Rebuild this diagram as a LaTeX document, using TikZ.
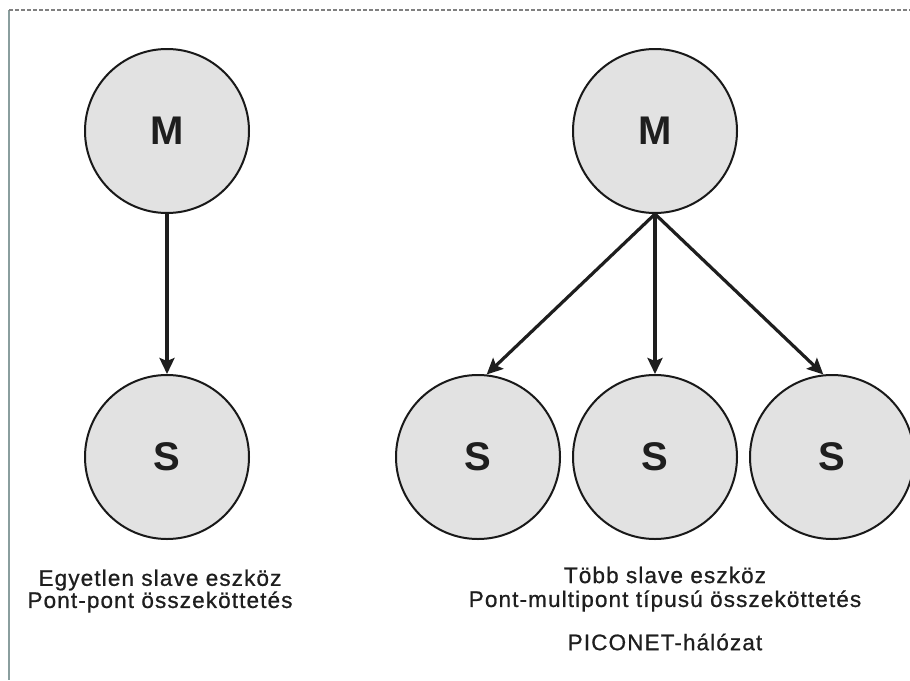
\documentclass[tikz,border=0pt]{standalone}
\usepackage{fontspec}
\setmainfont{Liberation Sans}
\usetikzlibrary{arrows.meta}
\definecolor{discfill}{HTML}{E2E2E2}
\definecolor{inkgray}{HTML}{1E1E1E}
\definecolor{framegray}{HTML}{8A9E9E}
\newfontfamily\captionfont[LetterSpace=5,FakeBold=0.8]{Liberation Sans}
\tikzset{
  station/.style={circle, draw=black!90, line width=2pt, fill=discfill,
    minimum size=164pt, inner sep=0pt, font=\fontsize{40}{42}\selectfont\bfseries, text=inkgray},
  link/.style={line width=3.2pt, draw=inkgray, -{Stealth[length=16pt,width=15pt,inset=3pt]}},
  caption/.style={font=\captionfont\fontsize{22.5}{26}\selectfont, text=inkgray, inner sep=0pt, anchor=center}
}
\begin{document}
\begin{tikzpicture}[x=1pt,y=-1pt]
  \useasboundingbox (0,0) rectangle (910,680);
  \fill[white] (0,0) rectangle (910,680);
  % frame edges
  \draw[framegray, line width=1.5pt] (9,10) -- (9,680);
  \draw[gray, line width=1.2pt, dash pattern=on 4pt off 2pt] (9,10) -- (910,10);

  % point-to-point pair
  \node[station] (m1) at (167,131) {M};
  \node[station] (s1) at (167,457) {S};
  \draw[link] (m1.south) -- (s1.north);

  % piconet
  \node[station] (m2) at (655,131) {M};
  \node[station] (sa) at (478,457) {S};
  \node[station] (sb) at (655,457) {S};
  \node[station] (sc) at (832,457) {S};
  \draw[link] (m2.south) -- (sa.84);
  \draw[link] (m2.south) -- (sb.north);
  \draw[link] (m2.south) -- (sc.96);

  % captions
  \node[caption] (c1) at (160,580) {Egyetlen slave eszköz};
  \node[caption] (c2) at (160,602) {Pont-pont összeköttetés};
  \node[caption] (c3) at (665,575) {Több slave eszköz};
  \node[caption] (c4) at (665,601) {Pont-multipont típusú összeköttetés};
  \node[caption] (c5) at (665,642) {PICONET-hálózat};
\end{tikzpicture}
\end{document}
